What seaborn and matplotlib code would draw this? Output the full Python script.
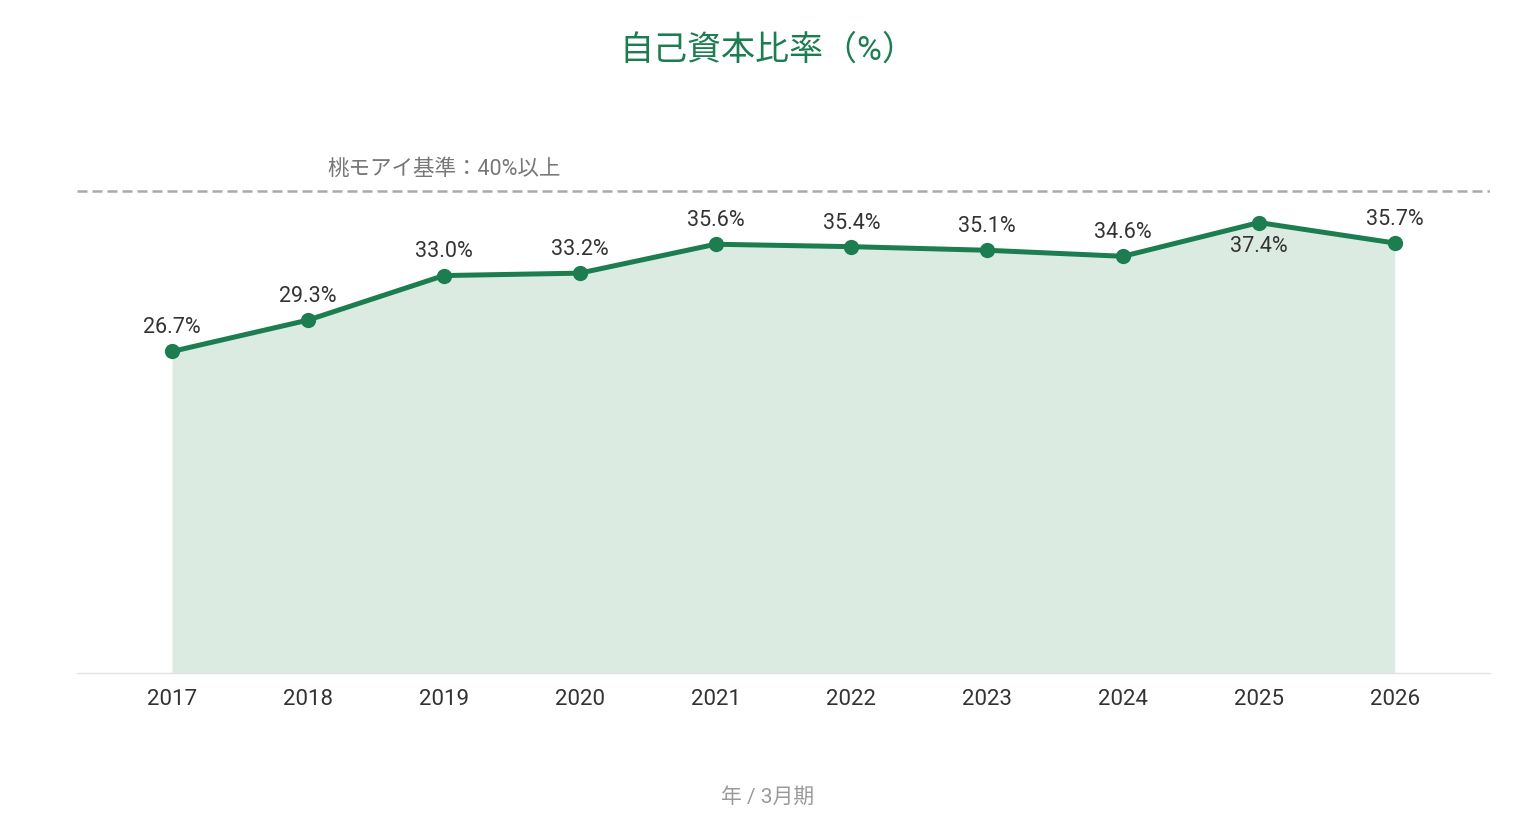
import numpy as np
import pandas as pd
import matplotlib
matplotlib.use('Agg')
import matplotlib.pyplot as plt
import seaborn as sns


# Data
years = ['2017', '2018', '2019', '2020', '2021',
         '2022', '2023', '2024', '2025', '2026']
ratio = [26.7, 29.3, 33.0, 33.2, 35.6, 35.4, 35.1, 34.6, 37.4, 35.7]
label_below = ['2025']
target = 40.0
target_label = '桃モアイ基準：40%以上'
title = '自己資本比率（%）'
xlabel = '年 / 3月期'

green = '#1b7d50'
fill_col = '#dcebe2'

sns.set_theme(style='white')
plt.rcParams['font.family'] = ['Roboto', 'Noto Sans CJK JP', 'DejaVu Sans']

df = pd.DataFrame({'year': years, 'ratio': ratio})
df['pos'] = np.arange(len(df))

fig = plt.figure(figsize=(15.36, 8.32), dpi=100)
ax = fig.add_axes([0.0501, 0.1911, 0.9199, 0.6514])

ax.fill_between(df['pos'], 0, df['ratio'], color=fill_col, lw=0, zorder=1)
sns.lineplot(x='pos', y='ratio', data=df, color=green, lw=3.6,
             marker='o', markersize=11, markeredgewidth=0, zorder=3, ax=ax)

ax.axhline(target, color='#aaaaaa', lw=1.8, ls=(0, (4, 2)), zorder=2)
ax.annotate(target_label, xy=(2, target), xytext=(0, 16),
            textcoords='offset points', ha='center', va='center',
            fontsize=15.5, color='#777777')

for p, y, v in zip(df['pos'], df['year'], df['ratio']):
    off = -17.5 if y in label_below else 17
    ax.annotate(f'{v:.1f}%', xy=(p, v), xytext=(0, off),
                textcoords='offset points', ha='center', va='center',
                fontsize=15.5, color='#333333', zorder=4)

ax.set_xlim(-0.7, len(df) - 0.3)
ax.set_ylim(0, 45)
ax.set_xticks(df['pos'])
ax.set_xticklabels(df['year'], fontsize=16, color='#333333')
ax.set_yticks([])
ax.tick_params(axis='x', length=0, pad=11.5)
ax.set_xlabel('')
ax.set_ylabel('')
for s in ['top', 'left', 'right']:
    ax.spines[s].set_visible(False)
ax.spines['bottom'].set_color('#e3e3e3')
ax.spines['bottom'].set_linewidth(1)

fig.text(0.5, 1 - 51 / 832, title, ha='center', va='center',
         fontsize=24.5, color=green)
fig.text(0.5, 1 - 797 / 832, xlabel, ha='center', va='center',
         fontsize=15, color='#999999')

plt.savefig('out.png', dpi=100)
